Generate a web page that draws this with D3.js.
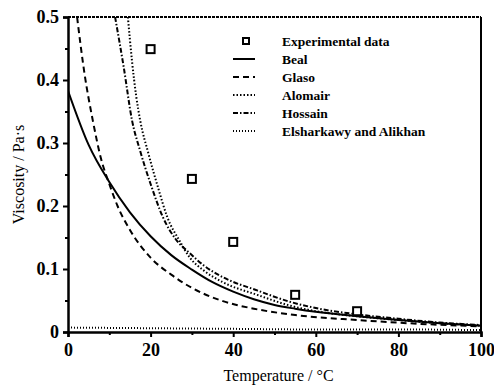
<!DOCTYPE html>
<html>
<head>
<meta charset="utf-8">
<script src="https://cdn.jsdelivr.net/npm/d3@7"></script>
<style>
  body { margin: 0; background: #fff; }
  svg { display: block; }
  text { font-family: "Liberation Serif", "DejaVu Serif", serif; fill: #000; }
</style>
</head>
<body>
<div id="chart"></div>
<script>
// values
const expT = [20, 30, 40, 55, 70];
const expV = [0.449, 0.243, 0.143, 0.059, 0.033];

const bealT = [0, 5, 10, 15, 20, 25, 30, 35, 40, 45, 50, 55, 60, 70, 80, 90, 100];
const bealV = [0.383, 0.297, 0.238, 0.19, 0.152, 0.122, 0.099, 0.079, 0.064, 0.052, 0.043, 0.037, 0.032, 0.025, 0.019, 0.014, 0.010];

const glasoT = [2.2, 4, 6, 8, 10, 12, 15, 20, 25, 30, 37.5, 45, 55, 70, 85, 100];
const glasoV = [0.5, 0.41, 0.336, 0.275, 0.235, 0.2, 0.162, 0.118, 0.091, 0.07, 0.049, 0.037, 0.027, 0.019, 0.013, 0.009];

const alomairT = [14.5, 15.5, 16.5, 17.5, 19.4, 22, 24, 27, 29.5, 33, 37.5, 45.8, 53.7, 60, 70, 80, 90, 100];
const alomairV = [0.5, 0.43, 0.375, 0.335, 0.285, 0.225, 0.183, 0.145, 0.118, 0.097, 0.079, 0.059, 0.042, 0.033, 0.025, 0.019, 0.014, 0.010];

const hossainT = [11.4, 13.5, 15.5, 17.4, 20, 23, 26, 29.5, 33, 37.5, 45.8, 53.7, 60, 70, 80, 90, 100];
const hossainV = [0.5, 0.42, 0.336, 0.289, 0.235, 0.182, 0.148, 0.125, 0.105, 0.087, 0.066, 0.048, 0.038, 0.028, 0.021, 0.015, 0.011];

const elshT = [0, 20, 40, 60, 80, 100];
const elshV = [0.007, 0.006, 0.005, 0.004, 0.004, 0.003];

const xTicks = [0, 20, 40, 60, 80, 100];
const yTicks = [0, 0.1, 0.2, 0.3, 0.4, 0.5];

const models = [
  {name: 'Beal', t: bealT, v: bealV, dash: null},
  {name: 'Glaso', t: glasoT, v: glasoV, dash: '6,4'},
  {name: 'Alomair', t: alomairT, v: alomairV, dash: '1.5,2'},
  {name: 'Hossain', t: hossainT, v: hossainV, dash: '5,2,1.5,2'},
  {name: 'Elsharkawy and Alikhan', t: elshT, v: elshV, dash: '1,2'}
];

const width = 494;
const height = 386;
const margin = {top: 17, right: 13, bottom: 54, left: 68};

const x = d3.scaleLinear().domain([0, 100]).range([margin.left, width - margin.right]);
const y = d3.scaleLinear().domain([0, 0.5]).range([height - margin.bottom, margin.top]);

const svg = d3.select('#chart')
    .append('svg')
    .attr('width', width)
    .attr('height', height);

svg.append('clipPath').attr('id', 'plot-clip')
    .append('rect')
    .attr('x', margin.left)
    .attr('y', margin.top)
    .attr('width', x(100) - x(0))
    .attr('height', y(0) - y(0.5));

// model curves
const line = d3.line()
    .x(d => x(d[0]))
    .y(d => y(d[1]))
    .curve(d3.curveMonotoneX);

svg.append('g')
    .attr('clip-path', 'url(#plot-clip)')
    .selectAll('path')
    .data(models)
    .enter().append('path')
    .attr('d', m => line(m.t.map((t, i) => [t, m.v[i]])))
    .attr('fill', 'none')
    .attr('stroke', '#000')
    .attr('stroke-width', 2)
    .attr('stroke-dasharray', m => m.dash);

// experimental points
svg.append('g')
    .selectAll('rect')
    .data(expT.map((t, i) => [t, expV[i]]))
    .enter().append('rect')
    .attr('x', d => x(d[0]) - 4)
    .attr('y', d => y(d[1]) - 4)
    .attr('width', 8)
    .attr('height', 8)
    .attr('fill', '#fff')
    .attr('stroke', '#000')
    .attr('stroke-width', 2);

// axes
svg.append('g')
    .attr('transform', `translate(0,${y(0)})`)
    .call(d3.axisBottom(x).tickValues(xTicks).tickSize(5).tickPadding(6).tickFormat(d3.format('d')));

svg.append('g')
    .attr('transform', `translate(0,${y(0)})`)
    .call(d3.axisBottom(x).tickValues(d3.range(10, 100, 20)).tickSize(3).tickFormat(''))
    .call(g => g.select('.domain').remove());

svg.append('g')
    .attr('transform', `translate(${margin.left},0)`)
    .call(d3.axisLeft(y).tickValues(yTicks).tickSize(5).tickPadding(4)
        .tickFormat(d => d === 0 ? '0' : d3.format('.1f')(d)));

svg.append('g')
    .attr('transform', `translate(${margin.left},0)`)
    .call(d3.axisLeft(y).tickValues(d3.range(0.05, 0.5, 0.1)).tickSize(3).tickFormat(''))
    .call(g => g.select('.domain').remove());

svg.selectAll('.domain').attr('stroke-width', 2.5);
svg.selectAll('.tick line').attr('stroke-width', 2);
svg.selectAll('.tick text')
    .attr('font-size', '18px')
    .attr('font-weight', 'bold')
    .attr('font-family', '"Liberation Serif", serif');

// top and right frame
svg.append('line')
    .attr('x1', x(0)).attr('x2', x(100))
    .attr('y1', y(0.5)).attr('y2', y(0.5))
    .attr('stroke', '#000')
    .attr('stroke-width', 2)
    .attr('stroke-dasharray', '3,1');

svg.append('line')
    .attr('x1', x(100)).attr('x2', x(100))
    .attr('y1', y(0.5)).attr('y2', y(0))
    .attr('stroke', '#000')
    .attr('stroke-width', 2);

// axis titles
svg.append('text')
    .attr('x', (x(0) + x(100)) / 2 + 4)
    .attr('y', 381)
    .attr('text-anchor', 'middle')
    .attr('font-size', '16px')
    .text('Temperature / °C');

svg.append('text')
    .attr('transform', `translate(24,${(y(0) + y(0.5)) / 2}) rotate(-90)`)
    .attr('text-anchor', 'middle')
    .attr('font-size', '16px')
    .text('Viscosity / Pa·s');

// legend
const legendRows = [{name: 'Experimental data', marker: true}].concat(models);

const legend = svg.selectAll('.legend')
    .data(legendRows)
    .enter().append('g')
    .attr('class', 'legend')
    .attr('transform', (d, i) => `translate(233,${41 + i * 18})`);

legend.filter(d => d.marker)
    .append('rect')
    .attr('x', 10)
    .attr('y', -3)
    .attr('width', 6)
    .attr('height', 6)
    .attr('fill', '#fff')
    .attr('stroke', '#000')
    .attr('stroke-width', 2);

legend.filter(d => !d.marker)
    .append('line')
    .attr('x1', 0)
    .attr('x2', 22)
    .attr('stroke', '#000')
    .attr('stroke-width', 2)
    .attr('stroke-dasharray', d => d.dash);

legend.append('text')
    .attr('x', 49)
    .attr('dy', '0.35em')
    .attr('font-size', '13.5px')
    .attr('font-weight', 'bold')
    .text(d => d.name);
</script>
</body>
</html>
